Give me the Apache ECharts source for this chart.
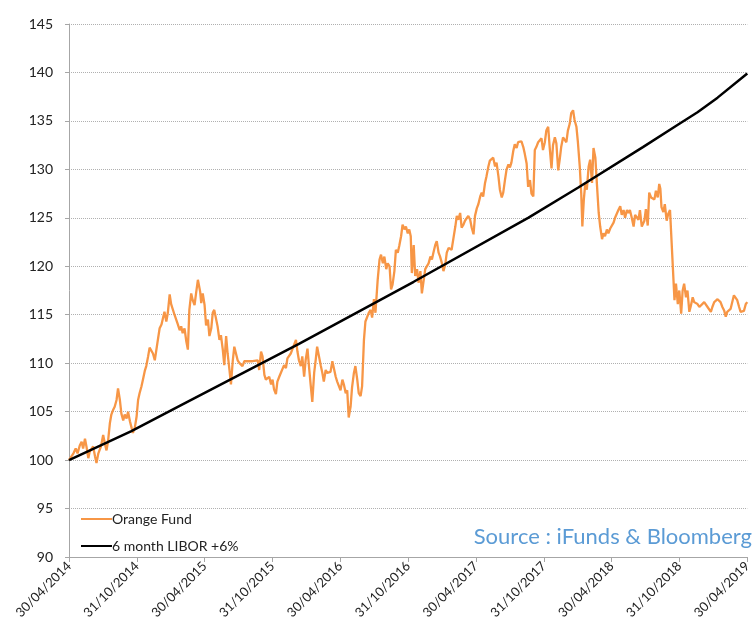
<!DOCTYPE html>
<html>
<head>
<meta charset="utf-8">
<script src="https://cdn.jsdelivr.net/npm/echarts@6/dist/echarts.min.js"></script>
<style>
  html, body { margin: 0; padding: 0; background: #fff; }
  #chart { width: 754px; height: 635px; }
</style>
</head>
<body>
<div id="chart"></div>
<script>
// x values are days since 30/04/2014
const tickLabels = ['30/04/2014', '31/10/2014', '30/04/2015', '31/10/2015', '30/04/2016', '31/10/2016',
  '30/04/2017', '31/10/2017', '30/04/2018', '31/10/2018', '30/04/2019'];

const fundDays = [0, 12, 18, 23, 29, 34, 38, 43, 47, 52, 56, 65, 70, 74, 79, 86, 92, 97, 101, 105,
  110, 114, 119, 123, 128, 132, 137, 141, 146, 150, 155, 159, 164, 168, 172, 177, 182, 186, 190, 195,
  199, 204, 208, 213, 217, 222, 226, 231, 235, 238, 244, 249, 253, 257, 262, 266, 271, 275, 280, 284,
  293, 298, 302, 306, 311, 316, 320, 324, 329, 333, 338, 342, 347, 349, 353, 356, 360, 365, 369, 374,
  378, 383, 387, 391, 396, 400, 405, 409, 414, 418, 423, 427, 432, 436, 441, 445, 450, 454, 459, 467,
  472, 481, 485, 494, 499, 508, 512, 517, 521, 526, 530, 539, 544, 548, 552, 557, 561, 566, 570, 579,
  584, 588, 593, 597, 601, 611, 615, 619, 624, 628, 633, 637, 642, 646, 651, 655, 660, 664, 668, 673,
  678, 682, 686, 691, 695, 704, 709, 713, 718, 722, 727, 731, 736, 740, 745, 749, 753, 758, 762, 767,
  771, 776, 780, 785, 789, 794, 798, 803, 807, 812, 816, 821, 825, 828, 831, 836, 840, 845, 849, 854,
  858, 863, 867, 871, 876, 880, 885, 889, 894, 898, 903, 907, 912, 916, 920, 923, 928, 932, 937, 941,
  946, 950, 955, 959, 963, 968, 973, 977, 981, 986, 990, 995, 999, 1004, 1008, 1013, 1017, 1022, 1026, 1030,
  1035, 1040, 1044, 1048, 1053, 1057, 1062, 1066, 1071, 1075, 1080, 1084, 1089, 1093, 1098, 1102, 1107, 1111, 1115, 1120,
  1124, 1129, 1133, 1138, 1142, 1147, 1151, 1156, 1160, 1165, 1169, 1174, 1178, 1183, 1187, 1191, 1196, 1200, 1205, 1209,
  1214, 1218, 1223, 1227, 1232, 1236, 1241, 1245, 1250, 1254, 1258, 1263, 1267, 1272, 1276, 1281, 1285, 1290, 1294, 1299,
  1303, 1308, 1312, 1317, 1321, 1325, 1330, 1335, 1339, 1343, 1348, 1352, 1357, 1361, 1366, 1370, 1375, 1379, 1382, 1386,
  1390, 1394, 1399, 1403, 1408, 1412, 1417, 1421, 1426, 1430, 1435, 1439, 1443, 1448, 1452, 1457, 1461, 1466, 1470, 1475,
  1479, 1484, 1488, 1493, 1497, 1502, 1506, 1510, 1515, 1520, 1524, 1528, 1533, 1537, 1542, 1549, 1553, 1558, 1562, 1567,
  1571, 1576, 1580, 1585, 1589, 1592, 1595, 1600, 1604, 1609, 1613, 1618, 1622, 1626, 1630, 1634, 1639, 1643, 1648, 1652,
  1656, 1661, 1665, 1670, 1674, 1679, 1683, 1692, 1697, 1701, 1710, 1714, 1719, 1728, 1732, 1737, 1746, 1750, 1754, 1759,
  1764, 1768, 1772, 1777, 1781, 1790, 1795, 1799, 1804, 1808, 1813, 1817, 1822, 1826];

const fundValues = [100.0, 100.7, 101.2, 100.7, 101.5, 101.9, 101.2, 102.2, 101.4, 100.2, 100.9, 101.4, 100.4, 99.7, 100.7, 101.4, 102.6, 101.6, 101.0, 101.9,
  103.8, 104.7, 105.2, 105.5, 106.2, 107.4, 106.2, 104.8, 104.1, 104.7, 104.3, 105.0, 104.0, 103.4, 102.8, 103.3, 104.5, 106.2, 106.9, 107.6,
  108.3, 109.2, 109.7, 110.7, 111.6, 111.4, 111.0, 110.3, 110.2, 112.1, 113.6, 114.0, 114.1, 115.3, 114.3, 115.2, 117.1, 116.1, 116.2, 115.0,
  114.0, 113.4, 113.8, 113.1, 113.6, 112.2, 111.4, 115.5, 117.2, 116.5, 116.0, 117.2, 118.6, 118.8, 117.4, 116.2, 117.2, 116.0, 113.9, 114.5,
  112.8, 113.6, 115.2, 115.5, 115.3, 113.8, 112.4, 112.9, 111.4, 109.8, 112.8, 111.0, 109.3, 107.8, 110.3, 111.7, 111.6, 110.3, 110.0, 109.7,
  110.2, 110.2, 110.3, 110.2, 110.0, 110.3, 109.3, 111.2, 110.7, 108.8, 108.3, 108.6, 107.8, 108.3, 107.3, 106.8, 108.1, 108.6, 108.8, 109.8,
  109.5, 110.5, 110.3, 111.0, 111.2, 112.4, 111.2, 110.3, 109.7, 110.7, 108.6, 110.3, 111.5, 109.7, 107.6, 106.0, 109.0, 110.3, 111.7, 110.7,
  109.7, 109.0, 108.1, 109.3, 109.0, 109.1, 110.2, 110.0, 108.6, 108.1, 108.1, 107.2, 108.3, 107.8, 106.9, 107.2, 104.4, 105.5, 107.5, 109.0,
  109.7, 108.3, 106.9, 106.6, 107.6, 112.4, 114.3, 114.5, 115.2, 115.5, 114.7, 116.6, 115.2, 116.9, 118.6, 120.7, 121.2, 120.3, 121.0, 119.7,
  120.3, 120.0, 117.6, 118.1, 119.5, 121.7, 121.4, 122.1, 123.1, 124.3, 123.8, 124.1, 123.4, 123.8, 123.1, 119.3, 122.2, 119.0, 119.7, 118.3,
  119.5, 117.2, 118.6, 119.7, 119.5, 120.3, 121.0, 120.7, 121.4, 122.2, 122.6, 121.4, 121.0, 120.3, 119.5, 120.2, 121.4, 121.9, 122.1, 121.7,
  122.9, 124.1, 125.2, 124.8, 125.5, 124.0, 124.3, 124.7, 124.5, 125.2, 124.8, 124.0, 123.3, 125.2, 126.0, 126.4, 127.2, 127.6, 127.2, 128.6,
  129.3, 130.3, 130.9, 130.7, 131.2, 130.3, 130.7, 129.3, 127.9, 127.1, 127.6, 129.0, 130.0, 130.5, 130.2, 130.7, 131.9, 132.6, 132.2, 132.8,
  132.6, 132.9, 132.3, 131.6, 130.6, 128.2, 128.9, 127.5, 127.2, 132.0, 132.3, 132.8, 132.7, 133.2, 132.0, 132.8, 134.0, 134.4, 132.3, 130.1,
  132.5, 133.3, 132.7, 129.9, 131.0, 132.3, 133.3, 133.2, 132.8, 134.0, 134.7, 135.8, 136.1, 135.1, 134.4, 132.8, 130.3, 127.5, 124.1, 126.9,
  128.6, 127.9, 130.3, 131.0, 128.6, 132.2, 131.2, 128.6, 125.5, 124.1, 122.8, 123.4, 123.1, 123.8, 123.4, 123.9, 124.1, 124.5, 125.0, 125.1,
  125.8, 126.2, 125.3, 125.8, 125.0, 125.8, 125.5, 125.8, 125.0, 124.1, 125.3, 125.5, 124.8, 125.8, 124.1, 124.7, 125.9, 124.2, 127.6, 127.1,
  127.3, 126.9, 127.8, 127.1, 128.5, 128.0, 126.1, 125.6, 126.4, 124.7, 125.4, 125.8, 122.7, 119.6, 116.5, 118.2, 116.1, 117.5, 115.1, 117.5,
  118.2, 116.8, 117.5, 115.3, 115.9, 116.8, 116.3, 116.1, 115.8, 115.6, 116.3, 116.1, 115.8, 115.3, 115.8, 116.3, 116.6, 116.8, 116.3, 115.8,
  115.4, 114.8, 115.3, 115.4, 115.6, 117.0, 116.8, 116.5, 115.8, 115.3, 115.1, 115.4, 116.1, 116.3];

const liborDays = [0, 168, 298, 619, 928, 1236, 1370, 1545, 1639, 1692, 1746, 1826];
const liborValues = [100.0, 103.0, 105.6, 112.0, 118.4, 125.0, 128.1, 132.3, 134.6, 135.9, 137.4, 139.9];

const halfYear = 182.6;
const font = 'Lato, "Open Sans", sans-serif';

const chart = echarts.init(document.getElementById('chart'), null, { renderer: 'canvas' });

chart.setOption({
  backgroundColor: '#fff',
  animation: false,
  textStyle: { fontFamily: font },
  grid: { left: 69, right: 4, top: 24, bottom: 78 },
  legend: {
    orient: 'vertical',
    left: 76,
    top: 507,
    icon: 'rect',
    itemWidth: 31,
    itemHeight: 2,
    itemGap: 13,
    textStyle: { fontSize: 14, color: '#222', fontFamily: font, padding: [0, 0, 0, -5] },
    data: ['Orange Fund', '6 month LIBOR +6%']
  },
  graphic: [{
    type: 'text',
    right: 2,
    top: 526,
    style: {
      text: 'Source : iFunds & Bloomberg',
      fill: '#5b9bd5',
      font: '22px ' + font
    }
  }],
  xAxis: {
    type: 'value',
    min: 0,
    max: 1826,
    interval: halfYear,
    axisLine: { show: true, lineStyle: { color: '#a6a6a6', width: 1 } },
    axisTick: { show: true, length: 5, lineStyle: { color: '#a6a6a6' } },
    splitLine: { show: false },
    axisLabel: {
      rotate: 45,
      margin: 7,
      fontSize: 13,
      color: '#222',
      fontFamily: font,
      showMaxLabel: true,
      formatter: v => tickLabels[Math.round(v / halfYear)] || ''
    }
  },
  yAxis: {
    type: 'value',
    min: 90,
    max: 145,
    interval: 5,
    axisLine: { show: true, lineStyle: { color: '#a6a6a6', width: 1 } },
    axisTick: { show: true, length: 4, lineStyle: { color: '#a6a6a6' } },
    splitLine: { show: true, lineStyle: { type: 'dotted', color: '#b0b0b0', width: 1 } },
    axisLabel: { fontSize: 14, color: '#222', margin: 16, fontFamily: font }
  },
  series: [
    {
      name: 'Orange Fund',
      type: 'line',
      symbol: 'none',
      color: '#f79646',
      lineStyle: { width: 2.3, color: '#f79646' },
      data: fundDays.map((d, i) => [d, fundValues[i]]),
      z: 2
    },
    {
      name: '6 month LIBOR +6%',
      type: 'line',
      symbol: 'none',
      color: '#000',
      lineStyle: { width: 2.5, color: '#000' },
      data: liborDays.map((d, i) => [d, liborValues[i]]),
      z: 3
    }
  ]
});
</script>
</body>
</html>
